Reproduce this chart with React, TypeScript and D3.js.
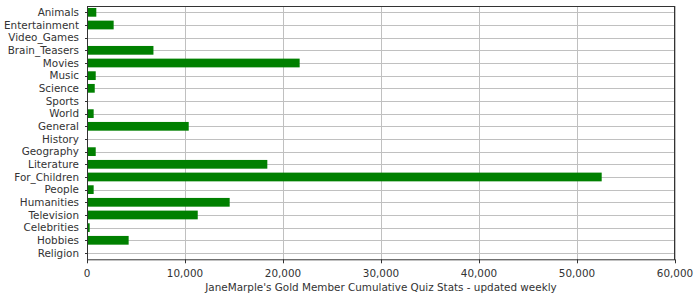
import React, { useEffect, useRef } from "react";
import * as d3 from "d3";

const categories = [
  "Animals", "Entertainment", "Video_Games", "Brain_Teasers", "Movies",
  "Music", "Science", "Sports", "World", "General", "History", "Geography",
  "Literature", "For_Children", "People", "Humanities", "Television",
  "Celebrities", "Hobbies", "Religion",
];

const quizCounts = [
  950, 2720, 0, 6780, 21700, 890, 790, 0, 680, 10380, 0, 890,
  18400, 52520, 680, 14560, 11300, 275, 4250, 0,
];

const xTicks = [0, 10000, 20000, 30000, 40000, 50000, 60000];
const xTitle = "JaneMarple's Gold Member Cumulative Quiz Stats - updated weekly";

const W = 700;
const H = 300;
const plot = { left: 87, right: 675, top: 6, bottom: 259.3 };
const FONT = "'DejaVu Sans', sans-serif";
const FS = 10.4;
const TEXT = "#333333";

export default function App() {
  const ref = useRef<SVGSVGElement | null>(null);

  useEffect(() => {
    const svg = d3.select(ref.current);
    svg.selectAll("*").remove();

    const x = d3.scaleLinear().domain([0, 60000]).range([plot.left, plot.right]);
    const pad = 0.31;
    const y = d3
      .scaleBand<string>()
      .domain(categories)
      .range([plot.top, plot.bottom])
      .paddingInner(pad)
      .paddingOuter(pad / 2);
    const center = (c: string) => (y(c) as number) + y.bandwidth() / 2;

    svg.append("rect")
      .attr("x", plot.left).attr("y", plot.top)
      .attr("width", plot.right - plot.left).attr("height", plot.bottom - plot.top)
      .attr("fill", "#ffffff");

    // gridlines
    const grid = svg.append("g").attr("stroke", "#c0c0c0").attr("stroke-width", 1);
    xTicks.forEach((t) => {
      const px = Math.round(x(t)) + 0.5;
      grid.append("line").attr("x1", px).attr("x2", px).attr("y1", plot.top).attr("y2", plot.bottom);
    });
    categories.forEach((c) => {
      const py = Math.round(center(c)) + 0.5;
      grid.append("line").attr("x1", plot.left).attr("x2", plot.right).attr("y1", py).attr("y2", py);
    });

    // bars
    svg.append("g")
      .selectAll("rect")
      .data(categories.map((c, i) => ({ c, v: quizCounts[i] })))
      .join("rect")
      .attr("x", x(0))
      .attr("y", (d) => y(d.c) as number)
      .attr("width", (d) => x(d.v) - x(0))
      .attr("height", y.bandwidth())
      .attr("fill", "#008000");

    // plot outline
    svg.append("rect")
      .attr("x", plot.left + 0.5).attr("y", plot.top + 0.5)
      .attr("width", plot.right - plot.left - 1).attr("height", plot.bottom - plot.top)
      .attr("fill", "none").attr("stroke", "#333333").attr("stroke-width", 1);

    // x axis ticks + labels
    const xa = svg.append("g");
    xTicks.forEach((t) => {
      const px = Math.round(x(t)) + 0.5;
      xa.append("line").attr("x1", px).attr("x2", px)
        .attr("y1", plot.bottom).attr("y2", plot.bottom + 4)
        .attr("stroke", "#333333");
      xa.append("text")
        .attr("x", x(t)).attr("y", 277)
        .attr("text-anchor", "middle")
        .attr("font-family", FONT).attr("font-size", FS).attr("fill", TEXT)
        .text(d3.format(",")(t));
    });

    // y axis ticks + labels
    const ya = svg.append("g");
    categories.forEach((c) => {
      const py = Math.round(center(c)) + 0.5;
      ya.append("line").attr("x1", plot.left - 2).attr("x2", plot.left)
        .attr("y1", py).attr("y2", py).attr("stroke", "#333333");
      ya.append("text")
        .attr("x", plot.left - 8).attr("y", center(c))
        .attr("dy", "0.35em")
        .attr("text-anchor", "end")
        .attr("font-family", FONT).attr("font-size", FS).attr("fill", TEXT)
        .text(c);
    });

    svg.append("text")
      .attr("x", (plot.left + plot.right) / 2).attr("y", 291)
      .attr("text-anchor", "middle")
      .attr("font-family", FONT).attr("font-size", FS).attr("fill", TEXT)
      .text(xTitle);
  }, []);

  return (
    <svg
      ref={ref}
      width={W}
      height={H}
      style={{ position: "absolute", left: 0, top: 0, background: "#ffffff" }}
    />
  );
}
